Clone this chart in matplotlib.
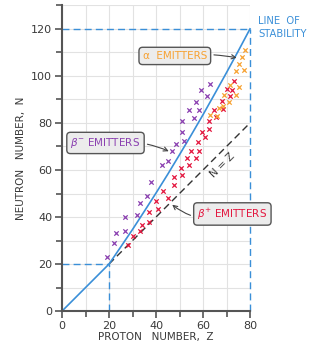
import matplotlib.pyplot as plt
import numpy as np

# ---- data ----
beta_minus_z = [19, 22, 23, 27, 27, 32, 33, 36, 38, 42.5, 45, 47, 48.5, 52, 51, 51, 56, 54, 58.5, 57, 61.5, 59, 63]
beta_minus_n = [23, 29, 33, 34, 40, 41, 46, 49, 55, 62, 64, 68, 71, 72.5, 76, 81, 82, 85.5, 85.5, 89, 91.5, 94, 96.5]

beta_plus_z = [28, 30, 33, 34, 37, 37, 40, 41, 43, 45, 47.5, 47.5, 50.5, 51, 53, 54, 55, 57, 58, 58.5,
               59.5, 61, 62.5, 62.5, 64.5, 65.5, 68, 68.5, 70, 71.5, 72.5, 73]
beta_plus_n = [28, 32, 34, 36.5, 38, 42, 47, 43.5, 51, 48, 53.5, 57, 61, 58, 65, 62, 68, 65, 72, 68,
               76, 74, 77.5, 81, 85.5, 82.5, 89.5, 86, 94.5, 91.5, 94, 98]

alpha_z = [63, 66, 67, 68.5, 69, 71, 71.5, 74, 75.5, 74, 77.5, 75.5, 76.5, 78]
alpha_n = [83.5, 83, 86.5, 87, 92, 89, 96, 92, 95.5, 102, 102.5, 105, 108, 111]

stability_z = [0, 20, 25, 30, 35, 40, 45, 50, 55, 60, 65, 70, 75, 80]
stability_n = [0, 20, 27.3, 34.7, 42.4, 50.2, 58.2, 66.5, 74.9, 83.5, 92.4, 101.4, 110.6, 120]

nz_z = [20, 80]
nz_n = [20, 80]

xticks = [0, 20, 40, 60, 80]
yticks = [0, 20, 40, 60, 80, 100, 120]

# ---- colours ----
purple = "#8a3fb0"
red = "#e3173f"
orange = "#f7a233"
blue = "#3a8fd8"
dark = "#3a3a3a"

fig = plt.figure(figsize=(3.23, 3.58), dpi=100)
ax = fig.add_axes([0.192, 0.131, 0.582, 0.854])
ax.set_xlim(0, 80)
ax.set_ylim(0, 130)

# grid
ax.set_xticks(xticks)
ax.set_yticks(yticks)
ax.set_xticks(np.arange(10, 80, 20), minor=True)
ax.set_yticks(np.arange(10, 131, 20), minor=True)
ax.grid(True, which="both", color="#e2e2e2", lw=0.8)
ax.set_axisbelow(True)

for s in ["top", "right"]:
    ax.spines[s].set_visible(False)
for s in ["left", "bottom"]:
    ax.spines[s].set_color("#555555")
    ax.spines[s].set_linewidth(1.5)
ax.tick_params(which="major", length=5, width=1.2, color="#555555", labelsize=8, labelcolor=dark, pad=2)
ax.tick_params(which="minor", length=4, width=1.2, color="#555555")

# dashed guides
ax.plot([0, 80], [120, 120], ls=(0, (5, 3)), c=blue, lw=1.0, clip_on=False)
ax.plot([80, 80], [0, 120], ls=(0, (5, 3)), c=blue, lw=1.0, clip_on=False)
ax.plot([0, 20], [20, 20], ls=(0, (5, 3)), c=blue, lw=1.0)
ax.plot([20, 20], [0, 20], ls=(0, (5, 3)), c=blue, lw=1.0)

# N = Z line
ax.plot(nz_z, nz_n, ls=(0, (5, 3)), c="#333333", lw=1.0, clip_on=False)
ax.text(68.5, 62, "N = Z", rotation=45, fontsize=7.5, color=dark, ha="center", va="center")

# line of stability
ax.plot(stability_z, stability_n, c=blue, lw=1.2, clip_on=False)
fig.text(0.80, 0.955, "LINE  OF\nSTABILITY", color=blue, fontsize=7.2, va="top", ha="left", linespacing=1.4)

# points
ax.scatter(beta_minus_z, beta_minus_n, marker="x", s=10, c=purple, lw=0.9, zorder=3)
ax.scatter(beta_plus_z, beta_plus_n, marker="x", s=10, c=red, lw=0.9, zorder=3)
ax.scatter(alpha_z, alpha_n, marker="x", s=10, c=orange, lw=0.9, zorder=3)

box = dict(boxstyle="round,pad=0.35", fc="#ececec", ec="#555555", lw=1.0)
arrow = dict(arrowstyle="->", color="#444444", lw=0.8)

ax.annotate("α  EMITTERS", xy=(75.5, 107.5), xytext=(48, 108.5), color=orange, fontsize=7.5,
            ha="center", va="center", bbox=box,
            arrowprops=dict(arrow, connectionstyle="arc3,rad=-0.08"), annotation_clip=False)
ax.annotate(r"$\beta^{-}$ EMITTERS", xy=(46.5, 67.5), xytext=(18.5, 71.5), color=purple, fontsize=7.5,
            ha="center", va="center", bbox=box,
            arrowprops=dict(arrow, connectionstyle="arc3,rad=-0.15"), annotation_clip=False)
ax.annotate(r"$\beta^{+}$ EMITTERS", xy=(46, 46), xytext=(72.5, 41.3), color=red, fontsize=7.5,
            ha="center", va="center", bbox=box,
            arrowprops=dict(arrow, connectionstyle="arc3,rad=-0.3"), annotation_clip=False)

ax.set_xlabel("PROTON   NUMBER,  Z", fontsize=7.5, color=dark, labelpad=1)
ax.set_ylabel("NEUTRON   NUMBER,  N", fontsize=7.5, color=dark, labelpad=4)

plt.savefig("out.png")
